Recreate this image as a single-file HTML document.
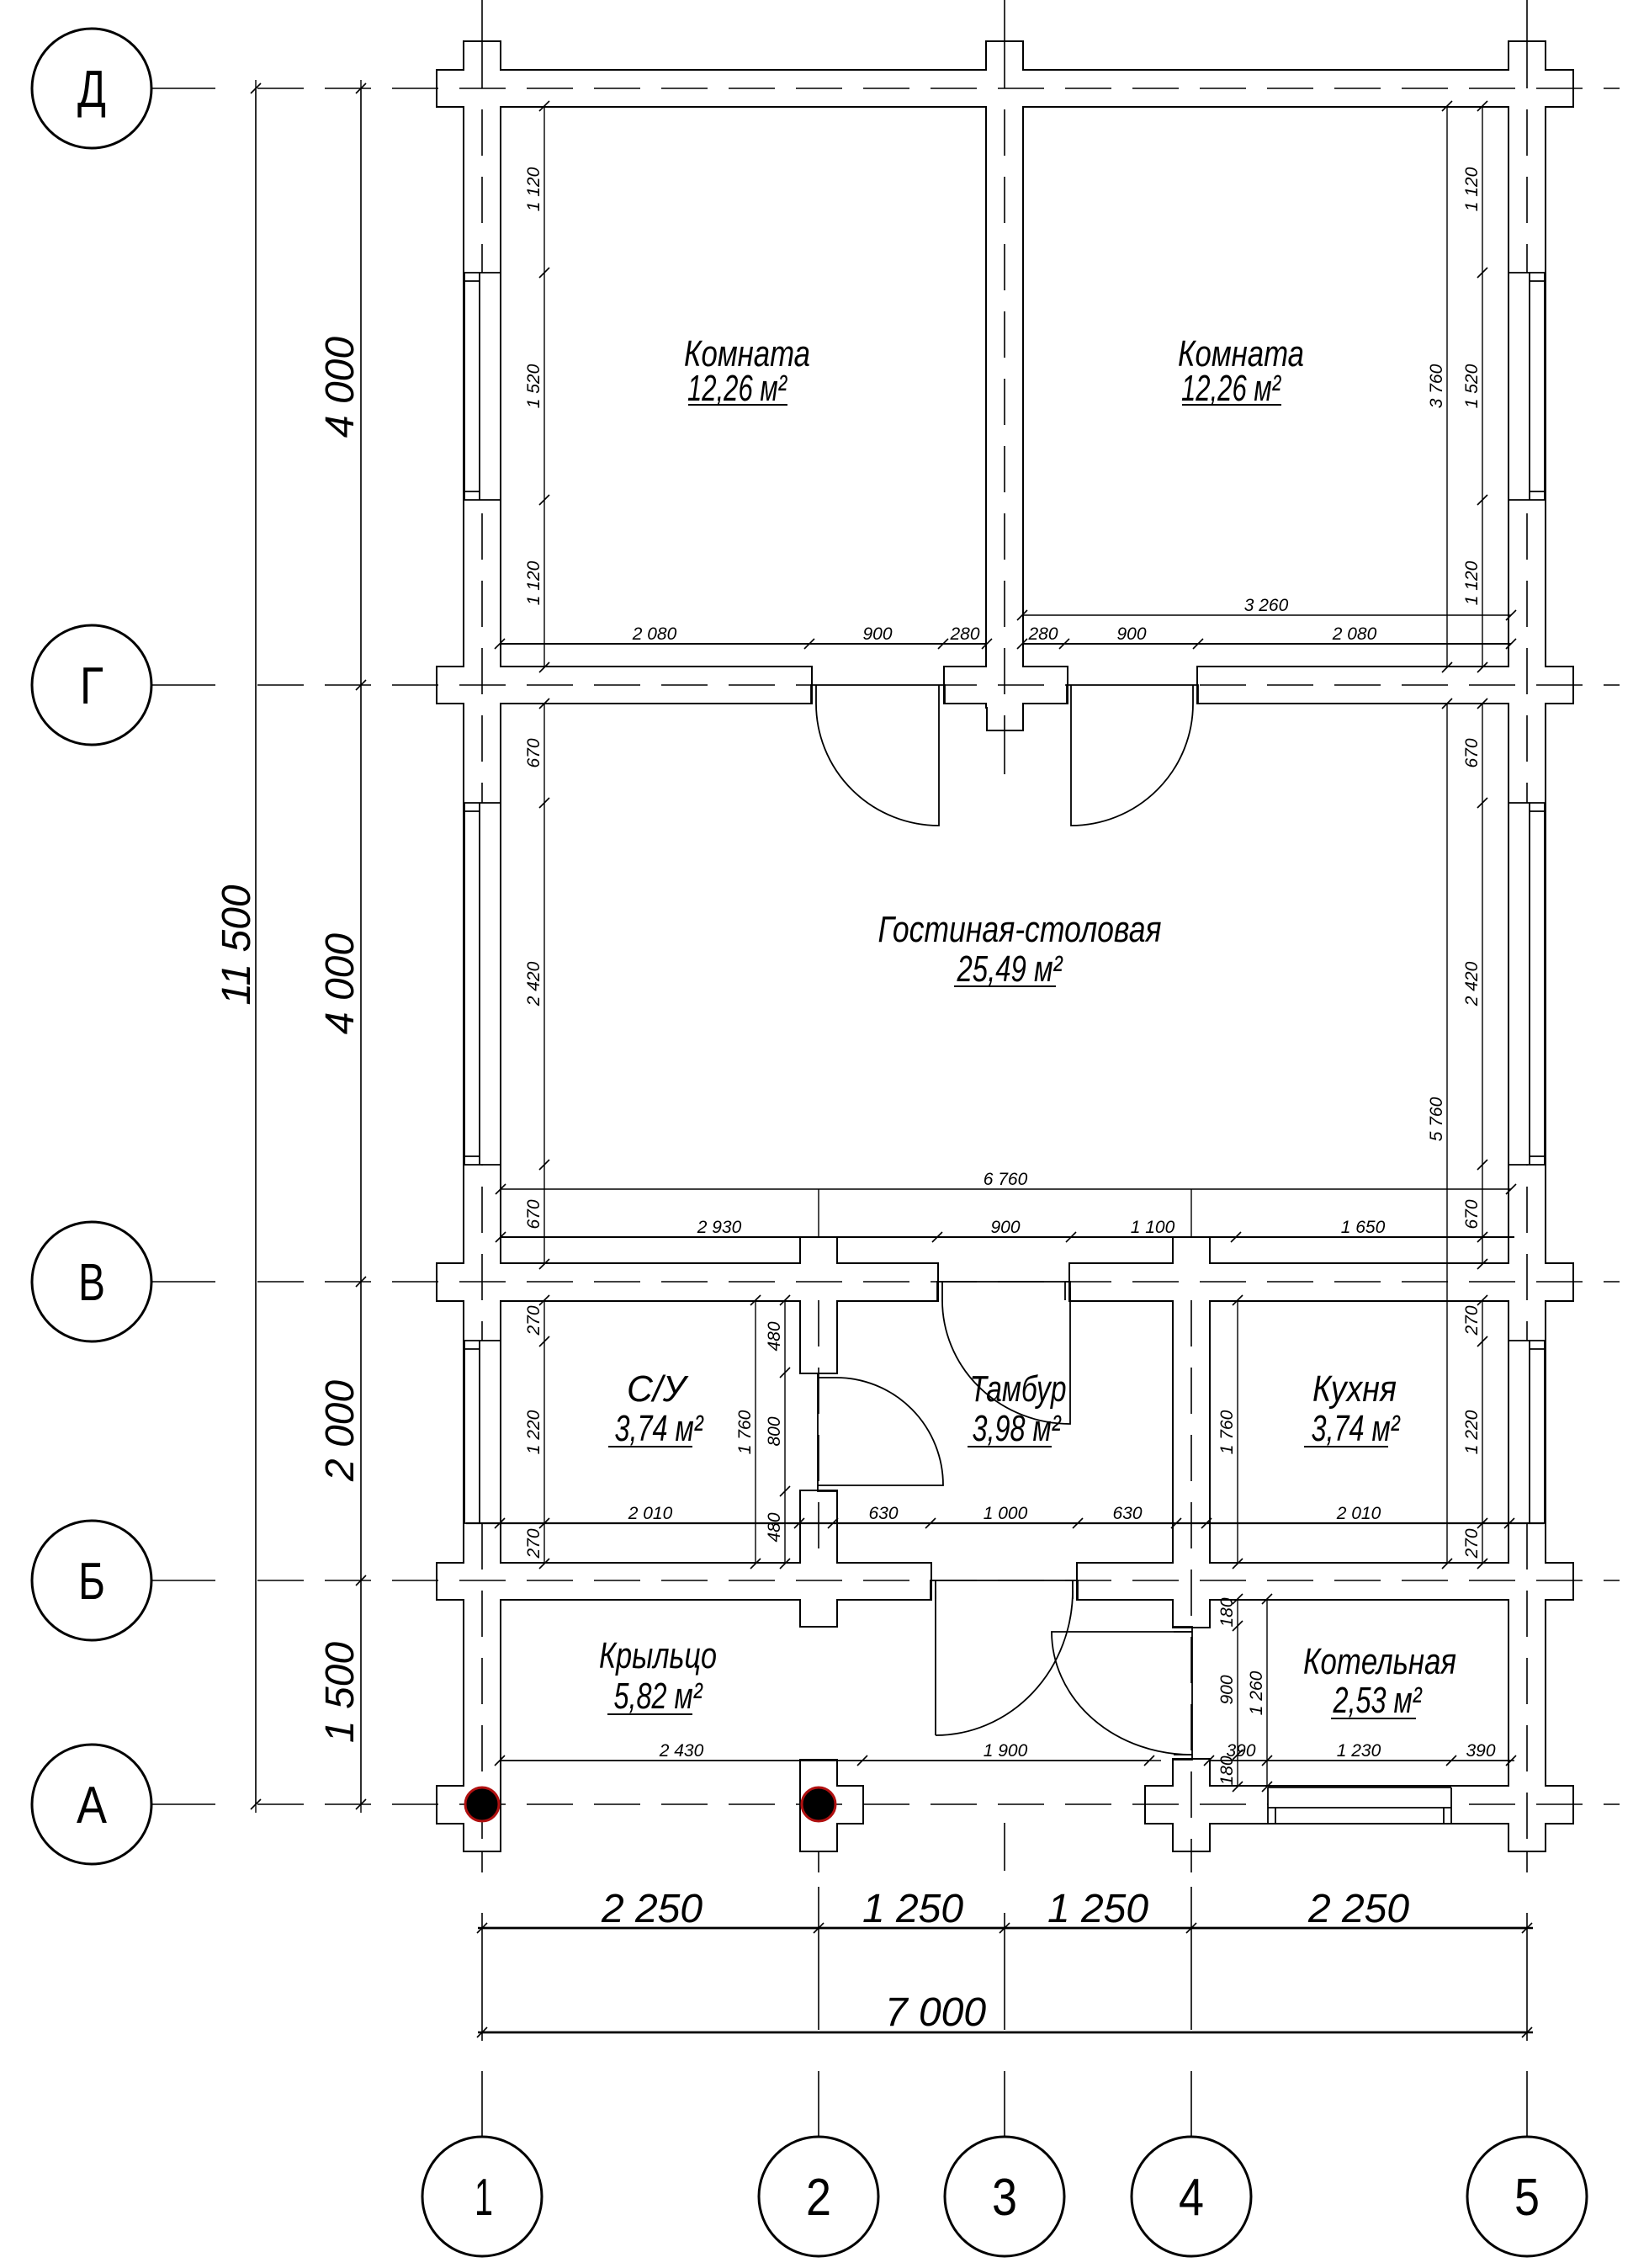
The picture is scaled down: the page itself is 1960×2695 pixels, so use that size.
<!DOCTYPE html>
<html><head><meta charset="utf-8"><style>
html,body{margin:0;padding:0;background:#fff}
svg{display:block}
text{font-family:"Liberation Sans",sans-serif;font-style:italic;fill:#000}
.d text{font-size:21px}
.r text{font-size:44px}
.b text{font-size:48px}
.ax text{font-size:62px;font-style:normal}
</style></head><body>
<svg width="1960" height="2695" viewBox="0 0 1960 2695" xmlns="http://www.w3.org/2000/svg">
<defs>
<marker id="t" markerUnits="userSpaceOnUse" markerWidth="20" markerHeight="20" refX="10" refY="10" orient="0" overflow="visible">
<line x1="4" y1="16" x2="16" y2="4" stroke="#000" stroke-width="1.6"/>
</marker>
<g id="w">
<rect x="520" y="84" width="1349" height="42"/>
<rect x="520" y="793" width="444" height="42"/>
<rect x="1123" y="793" width="145" height="42"/>
<rect x="1424" y="793" width="445" height="42"/>
<rect x="1174" y="830" width="41" height="37"/>
<rect x="520" y="1502" width="594" height="43"/>
<rect x="1272" y="1502" width="597" height="43"/>
<rect x="952" y="1471" width="42" height="35"/>
<rect x="1395" y="1471" width="42" height="35"/>
<rect x="520" y="1858" width="586" height="42"/>
<rect x="1281" y="1858" width="588" height="42"/>
<rect x="520" y="2123" width="74" height="43"/>
<rect x="952" y="2123" width="73" height="43"/>
<rect x="1362" y="2123" width="507" height="43"/>
<rect x="552" y="50" width="42" height="2149"/>
<rect x="1794" y="50" width="42" height="2149"/>
<rect x="1173" y="50" width="42" height="790"/>
<rect x="952" y="1540" width="42" height="91"/>
<rect x="952" y="1772" width="42" height="90"/>
<rect x="952" y="1895" width="42" height="37"/>
<rect x="952" y="2092" width="42" height="107"/>
<rect x="1395" y="1540" width="42" height="322"/>
<rect x="1395" y="1895" width="42" height="38"/>
<rect x="1395" y="2091" width="42" height="108"/>
</g>
</defs>

<use href="#w" fill="none" stroke="#000" stroke-width="4"/>
<use href="#w" fill="#fff" stroke="none"/>

<g stroke="#000" stroke-width="1.6" fill="none">
<g stroke-dasharray="55 25">
<line x1="306" y1="105" x2="1925" y2="105"/>
<line x1="306" y1="814" x2="1925" y2="814"/>
<line x1="306" y1="1523" x2="1925" y2="1523"/>
<line x1="306" y1="1878" x2="1925" y2="1878"/>
<line x1="306" y1="2144" x2="1925" y2="2144"/>
<line x1="573" y1="50" x2="573" y2="2199"/>
<line x1="1815" y1="50" x2="1815" y2="2199"/>
<line x1="1194" y1="50" x2="1194" y2="866"/>
<line x1="973" y1="1545" x2="973" y2="1858"/>
<line x1="1416" y1="1545" x2="1416" y2="2199"/>
</g>
<line x1="180" y1="105" x2="256" y2="105"/>
<line x1="180" y1="814" x2="256" y2="814"/>
<line x1="180" y1="1523" x2="256" y2="1523"/>
<line x1="180" y1="1878" x2="256" y2="1878"/>
<line x1="180" y1="2144" x2="256" y2="2144"/>
<line x1="573" y1="0" x2="573" y2="50"/>
<line x1="1194" y1="0" x2="1194" y2="50"/>
<line x1="1815" y1="0" x2="1815" y2="50"/>
<line x1="1194" y1="866" x2="1194" y2="920"/>
<line x1="1194" y1="2166" x2="1194" y2="2223"/>
<line x1="573" y1="2199" x2="573" y2="2225"/><line x1="573" y1="2273" x2="573" y2="2425"/>
<line x1="973" y1="2199" x2="973" y2="2225"/><line x1="973" y1="2242" x2="973" y2="2412"/>
<line x1="1194" y1="2273" x2="1194" y2="2412"/>
<line x1="1416" y1="2199" x2="1416" y2="2225"/><line x1="1416" y1="2242" x2="1416" y2="2412"/>
<line x1="1815" y1="2199" x2="1815" y2="2225"/><line x1="1815" y1="2273" x2="1815" y2="2425"/>
<line x1="573" y1="2461" x2="573" y2="2539"/>
<line x1="973" y1="2461" x2="973" y2="2539"/>
<line x1="1194" y1="2461" x2="1194" y2="2539"/>
<line x1="1416" y1="2461" x2="1416" y2="2539"/>
<line x1="1815" y1="2461" x2="1815" y2="2539"/>
</g>

<g stroke="#000" stroke-width="1.6" fill="#fff">
<rect x="553" y="324" width="40" height="270" stroke="none"/>
<rect x="553" y="954" width="40" height="430" stroke="none"/>
<rect x="553" y="1593" width="40" height="217" stroke="none"/>
<rect x="1795" y="324" width="40" height="270" stroke="none"/>
<rect x="1795" y="954" width="40" height="430" stroke="none"/>
<rect x="1795" y="1593" width="40" height="217" stroke="none"/>
</g>
<g stroke="#000" stroke-width="1.8" fill="none">
<path d="M552 324V594M570 324V594M552 324H594M552 594H594M552 334H570M552 584H570"/>
<path d="M552 954V1384M570 954V1384M552 954H594M552 1384H594M552 964H570M552 1374H570"/>
<path d="M552 1593V1810M570 1593V1810M552 1593H594M552 1810H594M552 1603H570"/>
<path d="M1836 324V594M1818 324V594M1794 324H1836M1794 594H1836M1818 334H1836M1818 584H1836"/>
<path d="M1836 954V1384M1818 954V1384M1794 954H1836M1794 1384H1836M1818 964H1836M1818 1374H1836"/>
<path d="M1836 1593V1810M1818 1593V1810M1794 1593H1836M1794 1810H1836M1818 1603H1836"/>
</g>
<rect x="1507" y="2126" width="218" height="38" fill="#fff"/>
<g stroke="#000" stroke-width="1.8" fill="none">
<path d="M1507 2124V2166M1725 2124V2166M1507 2148H1725M1516 2148V2166M1716 2148V2166M1507 2124H1725"/>
</g>

<g stroke="#000" stroke-width="1.8" fill="none">
<rect x="966" y="795" width="155" height="38" fill="#fff" stroke="none"/>
<rect x="1270" y="795" width="152" height="38" fill="#fff" stroke="none"/>
<path d="M964 836V814H1123V836M970 814V836M1116 814V836"/>
<path d="M1268 836V814H1424V836M1273 814V836M1418 814V836"/>
<path d="M970 836A146 145 0 0 0 1116 981V836"/>
<path d="M1418 836A145 145 0 0 1 1273 981V836"/>
<path d="M1114 1545V1523H1272V1545M1120 1523V1545M1266 1523V1545"/>
<path d="M1120 1545A152 147 0 0 0 1272 1692V1530"/>
<path d="M1106 1900V1878H1281V1900M1112 1878V1900M1275 1878V1900"/>
<path d="M1112 2062V1890M1112 2062A163 172 0 0 0 1275 1890"/>
<path d="M972 1631V1772H994M972 1637H994M972 1765H994"/>
<path d="M994 1637A127 128 0 0 1 1121 1765H994"/>
<path d="M1395 1933H1417V2091H1395M1395 1939H1417M1395 2085H1417"/>
<path d="M1417 1939H1250A166 146 0 0 0 1417 2085"/>
</g>

<circle cx="573" cy="2144" r="20" fill="#000" stroke="#b01010" stroke-width="3"/>
<circle cx="973" cy="2144" r="20" fill="#000" stroke="#b01010" stroke-width="3"/>

<g stroke="#000" stroke-width="1.4" fill="none" marker-start="url(#t)" marker-mid="url(#t)" marker-end="url(#t)">
<polyline points="304,105 304,2144"/>
<polyline points="429,105 429,814 429,1523 429,1878 429,2144"/>
<polyline points="573,2291 973,2291 1194,2291 1416,2291 1815,2291" stroke-width="2.4"/>
<polyline points="573,2415 1815,2415" stroke-width="2.4"/>
<polyline points="647,126 647,324 647,594 647,793"/>
<polyline points="1762,126 1762,324 1762,594 1762,793"/>
<polyline points="1720,126 1720,793"/>
<polyline points="594,765 962,765 1121,765 1173,765" stroke-width="2"/>
<polyline points="1215,765 1265,765 1424,765 1796,765" stroke-width="2"/>
<polyline points="1215,731 1796,731"/>
<polyline points="647,836 647,954 647,1384 647,1502"/>
<polyline points="1762,836 1762,954 1762,1384 1762,1502"/>
<polyline points="1720,836 1720,1858"/>
<polyline points="595,1413 1796,1413"/>
<polyline points="595,1470 1114,1470 1273,1470 1469,1470 1762,1470" stroke-width="2"/>
<polyline points="647,1545 647,1594 647,1810 647,1858"/>
<polyline points="1762,1545 1762,1594 1762,1810 1762,1858"/>
<polyline points="898,1545 898,1858"/>
<polyline points="933,1545 933,1631 933,1772 933,1858"/>
<polyline points="1471,1545 1471,1858"/>
<polyline points="594,1810 950,1810"/>
<polyline points="990,1810 1106,1810 1281,1810 1398,1810"/>
<polyline points="1434,1810 1794,1810"/>
<polyline points="594,2092 1025,2092 1366,2092"/>
<polyline points="1437,2092 1506,2092 1725,2092 1796,2092"/>
<polyline points="1471,1900 1471,1932 1471,2085 1471,2123"/>
<polyline points="1506,1900 1506,2123"/>
</g>
<g stroke="#000" stroke-width="1.4" fill="none">
<line x1="304" y1="95" x2="304" y2="2154"/>
<line x1="429" y1="95" x2="429" y2="2154"/>
<line x1="568" y1="2291" x2="1822" y2="2291" stroke-width="2.4"/>
<line x1="568" y1="2415" x2="1822" y2="2415" stroke-width="2.4"/>
<line x1="1762" y1="1470" x2="1800" y2="1470" stroke-width="2"/>
<line x1="554" y1="1810" x2="1835" y2="1810" stroke-width="2.2"/>
<line x1="973" y1="1413" x2="973" y2="1471"/>
<line x1="1416" y1="1413" x2="1416" y2="1471"/>
<line x1="594" y1="2092" x2="1380" y2="2092"/>
<line x1="1437" y1="2092" x2="1800" y2="2092"/>
</g>

<g class="d">
<text transform="translate(641,225) rotate(-90)" text-anchor="middle">1 120</text>
<text transform="translate(641,459) rotate(-90)" text-anchor="middle">1 520</text>
<text transform="translate(641,693) rotate(-90)" text-anchor="middle">1 120</text>
<text transform="translate(1756,225) rotate(-90)" text-anchor="middle">1 120</text>
<text transform="translate(1756,459) rotate(-90)" text-anchor="middle">1 520</text>
<text transform="translate(1756,693) rotate(-90)" text-anchor="middle">1 120</text>
<text transform="translate(1714,459) rotate(-90)" text-anchor="middle">3 760</text>
<text transform="translate(641,895) rotate(-90)" text-anchor="middle">670</text>
<text transform="translate(641,1169) rotate(-90)" text-anchor="middle">2 420</text>
<text transform="translate(641,1443) rotate(-90)" text-anchor="middle">670</text>
<text transform="translate(1756,895) rotate(-90)" text-anchor="middle">670</text>
<text transform="translate(1756,1169) rotate(-90)" text-anchor="middle">2 420</text>
<text transform="translate(1756,1443) rotate(-90)" text-anchor="middle">670</text>
<text transform="translate(1714,1330) rotate(-90)" text-anchor="middle">5 760</text>
<text transform="translate(641,1569) rotate(-90)" text-anchor="middle">270</text>
<text transform="translate(641,1702) rotate(-90)" text-anchor="middle">1 220</text>
<text transform="translate(641,1834) rotate(-90)" text-anchor="middle">270</text>
<text transform="translate(1756,1569) rotate(-90)" text-anchor="middle">270</text>
<text transform="translate(1756,1702) rotate(-90)" text-anchor="middle">1 220</text>
<text transform="translate(1756,1834) rotate(-90)" text-anchor="middle">270</text>
<text transform="translate(892,1702) rotate(-90)" text-anchor="middle">1 760</text>
<text transform="translate(927,1588) rotate(-90)" text-anchor="middle">480</text>
<text transform="translate(927,1701) rotate(-90)" text-anchor="middle">800</text>
<text transform="translate(927,1815) rotate(-90)" text-anchor="middle">480</text>
<text transform="translate(1465,1702) rotate(-90)" text-anchor="middle">1 760</text>
<text transform="translate(1465,1916) rotate(-90)" text-anchor="middle">180</text>
<text transform="translate(1465,2008) rotate(-90)" text-anchor="middle">900</text>
<text transform="translate(1465,2104) rotate(-90)" text-anchor="middle">180</text>
<text transform="translate(1500,2012) rotate(-90)" text-anchor="middle">1 260</text>
</g>
<g class="d" text-anchor="middle">
<text x="778" y="760">2 080</text><text x="1043" y="760">900</text><text x="1147" y="760">280</text>
<text x="1240" y="760">280</text><text x="1345" y="760">900</text><text x="1610" y="760">2 080</text>
<text x="1505" y="726">3 260</text>
<text x="1195" y="1408">6 760</text>
<text x="855" y="1465">2 930</text><text x="1195" y="1465">900</text><text x="1370" y="1465">1 100</text><text x="1620" y="1465">1 650</text>
<text x="773" y="1805">2 010</text><text x="1050" y="1805">630</text><text x="1195" y="1805">1 000</text><text x="1340" y="1805">630</text><text x="1615" y="1805">2 010</text>
<text x="810" y="2087">2 430</text><text x="1195" y="2087">1 900</text><text x="1475" y="2087">390</text><text x="1615" y="2087">1 230</text><text x="1760" y="2087">390</text>
</g>
<g class="b" text-anchor="middle">
<text x="775" y="2284">2 250</text><text x="1085" y="2284">1 250</text><text x="1305" y="2284">1 250</text><text x="1615" y="2284">2 250</text>
<text x="1112" y="2407">7 000</text>
<text transform="translate(420,460) rotate(-90)">4 000</text>
<text transform="translate(420,1169) rotate(-90)">4 000</text>
<text transform="translate(420,1700) rotate(-90)">2 000</text>
<text transform="translate(420,2011) rotate(-90)">1 500</text>
<text transform="translate(297,1123) rotate(-90)">11 500</text>
</g>

<g class="r" text-anchor="middle">
<text x="888" y="435" textLength="150" lengthAdjust="spacingAndGlyphs">Комната</text>
<text x="876" y="476" textLength="118" lengthAdjust="spacingAndGlyphs">12,26 м²</text>
<text x="1475" y="435" textLength="150" lengthAdjust="spacingAndGlyphs">Комната</text>
<text x="1463" y="476" textLength="118" lengthAdjust="spacingAndGlyphs">12,26 м²</text>
<text x="1212" y="1119" textLength="337" lengthAdjust="spacingAndGlyphs">Гостиная-столовая</text>
<text x="1200" y="1166" textLength="125" lengthAdjust="spacingAndGlyphs">25,49 м²</text>
<text x="780" y="1665" textLength="70" lengthAdjust="spacingAndGlyphs">С/У</text>
<text x="783" y="1712" textLength="105" lengthAdjust="spacingAndGlyphs">3,74 м²</text>
<text x="1210" y="1665" textLength="115" lengthAdjust="spacingAndGlyphs">Тамбур</text>
<text x="1208" y="1712" textLength="105" lengthAdjust="spacingAndGlyphs">3,98 м²</text>
<text x="1610" y="1665" textLength="100" lengthAdjust="spacingAndGlyphs">Кухня</text>
<text x="1611" y="1712" textLength="105" lengthAdjust="spacingAndGlyphs">3,74 м²</text>
<text x="782" y="1982" textLength="140" lengthAdjust="spacingAndGlyphs">Крыльцо</text>
<text x="782" y="2030" textLength="105" lengthAdjust="spacingAndGlyphs">5,82 м²</text>
<text x="1640" y="1989" textLength="182" lengthAdjust="spacingAndGlyphs">Котельная</text>
<text x="1637" y="2035" textLength="105" lengthAdjust="spacingAndGlyphs">2,53 м²</text>
</g>
<g stroke="#000" stroke-width="2">
<line x1="818" y1="481" x2="936" y2="481"/>
<line x1="1405" y1="481" x2="1523" y2="481"/>
<line x1="1134" y1="1172" x2="1255" y2="1172"/>
<line x1="723" y1="1719" x2="823" y2="1719"/>
<line x1="1150" y1="1719" x2="1250" y2="1719"/>
<line x1="1550" y1="1719" x2="1650" y2="1719"/>
<line x1="722" y1="2037" x2="823" y2="2037"/>
<line x1="1582" y1="2042" x2="1683" y2="2042"/>
</g>

<g fill="#fff" stroke="#000" stroke-width="3">
<circle cx="109" cy="105" r="71"/>
<circle cx="109" cy="814" r="71"/>
<circle cx="109" cy="1523" r="71"/>
<circle cx="109" cy="1878" r="71"/>
<circle cx="109" cy="2144" r="71"/>
<circle cx="573" cy="2610" r="71"/>
<circle cx="973" cy="2610" r="71"/>
<circle cx="1194" cy="2610" r="71"/>
<circle cx="1416" cy="2610" r="71"/>
<circle cx="1815" cy="2610" r="71"/>
</g>
<g class="ax" text-anchor="middle">
<text x="109" y="127" textLength="34" lengthAdjust="spacingAndGlyphs">Д</text>
<text x="109" y="836" textLength="28" lengthAdjust="spacingAndGlyphs">Г</text>
<text x="109" y="1545" textLength="32" lengthAdjust="spacingAndGlyphs">В</text>
<text x="109" y="1900" textLength="32" lengthAdjust="spacingAndGlyphs">Б</text>
<text x="109" y="2166" textLength="36" lengthAdjust="spacingAndGlyphs">А</text>
<text x="575" y="2632" textLength="22" lengthAdjust="spacingAndGlyphs">1</text>
<text x="973" y="2632" textLength="30" lengthAdjust="spacingAndGlyphs">2</text>
<text x="1194" y="2632" textLength="30" lengthAdjust="spacingAndGlyphs">3</text>
<text x="1416" y="2632" textLength="30" lengthAdjust="spacingAndGlyphs">4</text>
<text x="1815" y="2632" textLength="30" lengthAdjust="spacingAndGlyphs">5</text>
</g>
</svg>
</body></html>
